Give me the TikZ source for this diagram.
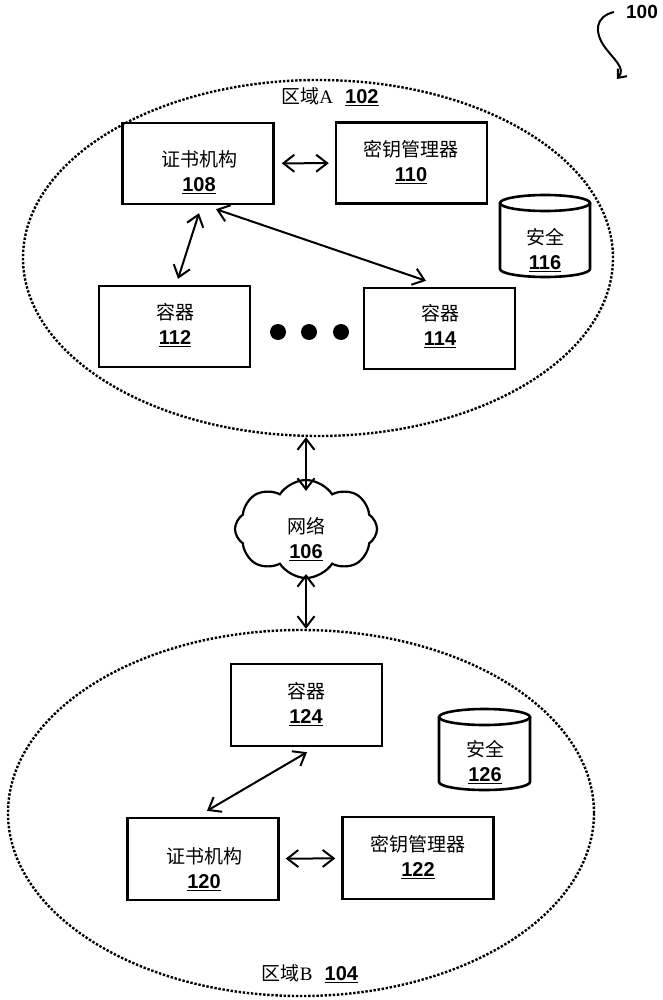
\documentclass[tikz,border=0pt]{standalone}
\usepackage{fontspec}
\setmainfont{Liberation Sans}
\newfontfamily\cjk{Noto Sans CJK SC}
\newfontfamily\serifA{Liberation Serif}
\usetikzlibrary{arrows.meta,shapes.symbols,shapes.geometric}
\newcommand{\refnum}[1]{\underline{{\fontsize{20}{25}\selectfont\textbf{#1}}}}
\begin{document}
\begin{tikzpicture}[x=1pt,y=-1pt,
  box/.style={draw, line width=2.4pt, minimum width=151pt, minimum height=81pt, inner sep=0pt},
  txt/.style={align=center, font=\fontsize{19}{25}\selectfont, inner sep=0pt},
  zone/.style={draw, ellipse, dash pattern=on 2.4pt off 1.7pt, line width=2.4pt, inner sep=0pt},
  biarrow/.style={{Straight Barb[length=11pt,width=17pt]}-{Straight Barb[length=11pt,width=17pt]}, line width=2pt},
  cyl/.style={line width=2.6pt},
  bigdot/.style={circle, fill=black, minimum size=16pt, inner sep=0pt}]
\useasboundingbox (0,0) rectangle (663,1000);
\fill[white] (0,0) rectangle (663,1000);

% label 100
\node[font=\fontsize{19}{20}\selectfont\bfseries, inner sep=0pt] (n100) at (642,12) {100};
\coordinate (sqend) at (617,79);
\draw[line width=2pt, -{Straight Barb[length=7pt,width=12pt]}] ([xshift=-12pt]n100.west) .. controls (594,17) and (595,33) .. (604,46) .. controls (614,60) and (626,68) .. (sqend);

% zones
\node[zone, minimum width=590pt, minimum height=356pt] (zoneA) at (318,258) {};
\node[zone, minimum width=586pt, minimum height=366pt] (zoneB) at (301,813) {};
\node[font=\fontsize{19}{22}\selectfont, inner sep=0pt] (lblA) at (330,97) {{\cjk 区域}{\serifA A}\hspace{12pt}\refnum{102}};
\node[font=\fontsize{19}{22}\selectfont, inner sep=0pt] (lblB) at (310,974) {{\cjk 区域}{\serifA B}\hspace{12pt}\refnum{104}};

% zone A boxes
\node[box] (b108) at (198,163.5) {};
\node[box] (b110) at (411.5,163) {};
\node[box] (b112) at (174.5,326.5) {};
\node[box] (b114) at (439.5,328.5) {};
\node[txt] (t108) at (199,172) {{\cjk 证书机构}\\\refnum{108}};
\node[txt] (t110) at (411,162) {{\cjk 密钥管理器}\\\refnum{110}};
\node[txt] (t112) at (175,325) {{\cjk 容器}\\\refnum{112}};
\node[txt] (t114) at (440,326) {{\cjk 容器}\\\refnum{114}};

\node[bigdot] (d1) at (278,332) {};
\node[bigdot] (d2) at (309,332) {};
\node[bigdot] (d3) at (341,332) {};

% cylinder 116
\draw[cyl] (500,203) -- (500,269) arc[start angle=180,end angle=0,x radius=45,y radius=8] -- (590,203);
\draw[cyl] (545,203) ellipse[x radius=45,y radius=8];
\node[txt] (t116) at (545,250) {{\cjk 安全}\\\refnum{116}};

% arrows zone A
\draw[biarrow, shorten <=7pt, shorten >=6pt] (b108) -- (b110);
\draw[biarrow] ([xshift=1pt,yshift=-8pt]b108.south) -- ([xshift=3.5pt,yshift=6pt]b112.north);
\draw[biarrow] ([xshift=18pt,yshift=-4pt]b108.south) -- ([xshift=-13.5pt,yshift=6pt]b114.north);

% cloud
\node[cloud, draw, line width=2.2pt, cloud puffs=8, cloud puff arc=115, aspect=1.45, minimum width=142pt, minimum height=98pt, inner sep=0pt] (net) at (306,529) {};
\node[txt] (t106) at (306,539) {{\cjk 网络}\\\refnum{106}};
\draw[biarrow] (zoneA.south -| net.north) -- ([yshift=-12pt]net.north);
\draw[biarrow] ([yshift=5pt]net.south) -- (net.south |- zoneB.north);

% zone B boxes
\node[box, minimum height=82pt] (b124) at (306.5,705) {};
\node[box, minimum height=82pt] (b120) at (203,859) {};
\node[box, minimum height=82pt] (b122) at (418,858) {};
\node[txt] (t124) at (306,704) {{\cjk 容器}\\\refnum{124}};
\node[txt] (t120) at (204,869) {{\cjk 证书机构}\\\refnum{120}};
\node[txt] (t122) at (418,857) {{\cjk 密钥管理器}\\\refnum{122}};

% cylinder 126
\draw[cyl] (439,717) -- (439,782) arc[start angle=180,end angle=0,x radius=45.5,y radius=8] -- (530,717);
\draw[cyl] (484.5,717) ellipse[x radius=45.5,y radius=8];
\node[txt] (t126) at (485,762) {{\cjk 安全}\\\refnum{126}};

% arrows zone B
\draw[biarrow] ([xshift=0.5pt,yshift=-5pt]b124.south) -- ([xshift=4pt,yshift=6pt]b120.north);
\draw[biarrow, shorten <=6pt, shorten >=6pt] (b120) -- (b122);
\end{tikzpicture}
\end{document}
